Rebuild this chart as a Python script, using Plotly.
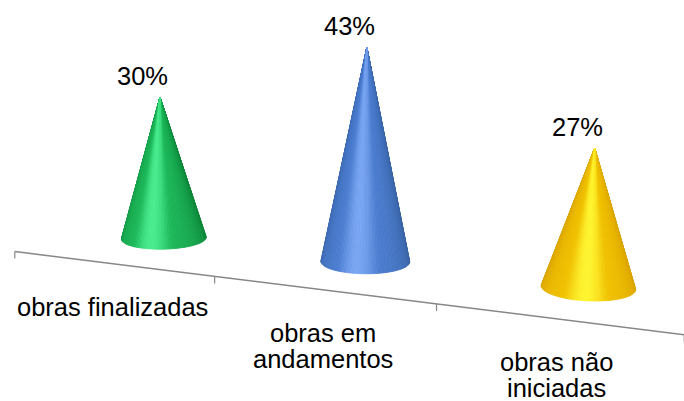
import numpy as np
import plotly.graph_objects as go

categories = ["obras finalizadas", "obras em andamentos", "obras não iniciadas"]
tick_lines = [["obras finalizadas"], ["obras em", "andamentos"], ["obras não", "iniciadas"]]
values = [30, 43, 27]
value_labels = ["30%", "43%", "27%"]
shadow_colors = ["#0c8438", "#36609f", "#d49c00"]
mid_colors = ["#1cb658", "#4b7ccf", "#f0c000"]
light_colors = ["#48ec8e", "#79a6f2", "#fff530"]

W, Hpx = 684, 401
FONT = dict(family="Liberation Sans, Arial", size=25.5, color="#000000")

# 3-D view: yaw, pitch, camera distance, focal length (px), screen centre (px)
YAW, PITCH, DIST, FOCAL, CX, CY = -0.408, 0.2914, 7.087, 1711.8, 322.6, 289.8
# scene: cone depth behind the axis, base radius, height per percentage point
DEPTH, RADIUS, HEIGHT_PER_PCT = 0.4714, 0.1943, 0.02185

target = np.array([1.5, 0.0, 0.0])
fwd = np.array([np.sin(YAW) * np.cos(PITCH), np.cos(YAW) * np.cos(PITCH), -np.sin(PITCH)])
eye = target - DIST * fwd
right = np.array([np.cos(YAW), -np.sin(YAW), 0.0])
up = np.cross(right, fwd)


def project(P):
    P = np.atleast_2d(np.asarray(P, float))
    rel = P - eye
    zc = rel @ fwd
    return CX + FOCAL * (rel @ right) / zc, CY - FOCAL * (rel @ up) / zc, zc


def hex_rgb(c):
    c = c.lstrip("#")
    return np.array([int(c[i:i + 2], 16) for i in (0, 2, 4)], float)


def mix(a, b, t):
    return a + (b - a) * t


# light comes from the viewer's side, turned slightly to the right
view_az = np.arctan2(-fwd[1], -fwd[0])
light_az = view_az - 0.2

fig = go.Figure()
N = 160
for i, v in enumerate(values):
    H = HEIGHT_PER_PCT * v
    base = np.array([i + 0.5, DEPTH, 0.0])
    apex = np.array([i + 0.5, DEPTH, H])
    kappa = np.arctan2(RADIUS, H)
    phis = np.linspace(0, 2 * np.pi, N + 1)
    ring = base + RADIUS * np.stack([np.cos(phis), np.sin(phis), np.zeros_like(phis)], axis=1)
    ru, rv, rz = project(ring)
    au, av, _ = project(apex)
    c0, c1, c2 = hex_rgb(shadow_colors[i]), hex_rgb(mid_colors[i]), hex_rgb(light_colors[i])
    facets = []
    for j in range(N):
        pm = 0.5 * (phis[j] + phis[j + 1])
        n = np.array([np.cos(pm) * np.cos(kappa), np.sin(pm) * np.cos(kappa), np.sin(kappa)])
        mid = base + RADIUS * np.array([np.cos(pm), np.sin(pm), 0])
        if n @ (eye - mid) <= 0:
            continue  # facet turned away from the viewer
        s = np.cos(pm - light_az)
        if s < 0.85:
            col = mix(c0, c1, np.clip((s + 0.2) / 1.05, 0, 1))
        else:
            col = mix(c1, c2, ((s - 0.85) / 0.15) ** 2)
        col = "rgb(%d,%d,%d)" % tuple(np.clip(col, 0, 255))
        depth = 0.5 * (rz[j] + rz[j + 1])
        facets.append((depth, [au[0], ru[j], ru[j + 1], au[0]], [av[0], rv[j], rv[j + 1], av[0]], col))
    facets.sort(key=lambda f: -f[0])
    for _, xs, ys, col in facets:
        fig.add_trace(go.Scatter(x=xs, y=ys, mode="lines", fill="toself", fillcolor=col,
                                 line=dict(color=col, width=0.8), hoverinfo="skip",
                                 showlegend=False, name=categories[i]))
    fig.add_annotation(x=au[0], y=av[0], text=value_labels[i], showarrow=False,
                       xanchor="center", yanchor="middle", xshift=-17, yshift=21, font=FONT)

# category axis along the front edge of the floor
xu, xv, _ = project([[0, 0, 0], [3, 0, 0]])
fig.add_trace(go.Scatter(x=xu, y=xv, mode="lines", line=dict(color="#878787", width=1.5),
                         hoverinfo="skip", showlegend=False))
tu, tv, _ = project([[k, 0, 0] for k in range(len(values) + 1)])
for k in range(len(tu)):
    fig.add_trace(go.Scatter(x=[tu[k], tu[k]], y=[tv[k], tv[k] + 7], mode="lines",
                             line=dict(color="#878787", width=1.2), hoverinfo="skip",
                             showlegend=False))
lu, lv, _ = project([[i + 0.5, 0, 0] for i in range(len(values))])
for i, lines in enumerate(tick_lines):
    for k, line in enumerate(lines):
        fig.add_annotation(x=lu[i], y=lv[i], text=line, showarrow=False, xanchor="center",
                           yanchor="top", yshift=-27 - 26.5 * k, font=FONT)

fig.update_layout(width=W, height=Hpx, margin=dict(l=0, r=0, t=0, b=0),
                  paper_bgcolor="white", plot_bgcolor="white",
                  xaxis=dict(range=[0, W], visible=False, fixedrange=True),
                  yaxis=dict(range=[Hpx, 0], visible=False, fixedrange=True))
fig.write_html("out.html")
